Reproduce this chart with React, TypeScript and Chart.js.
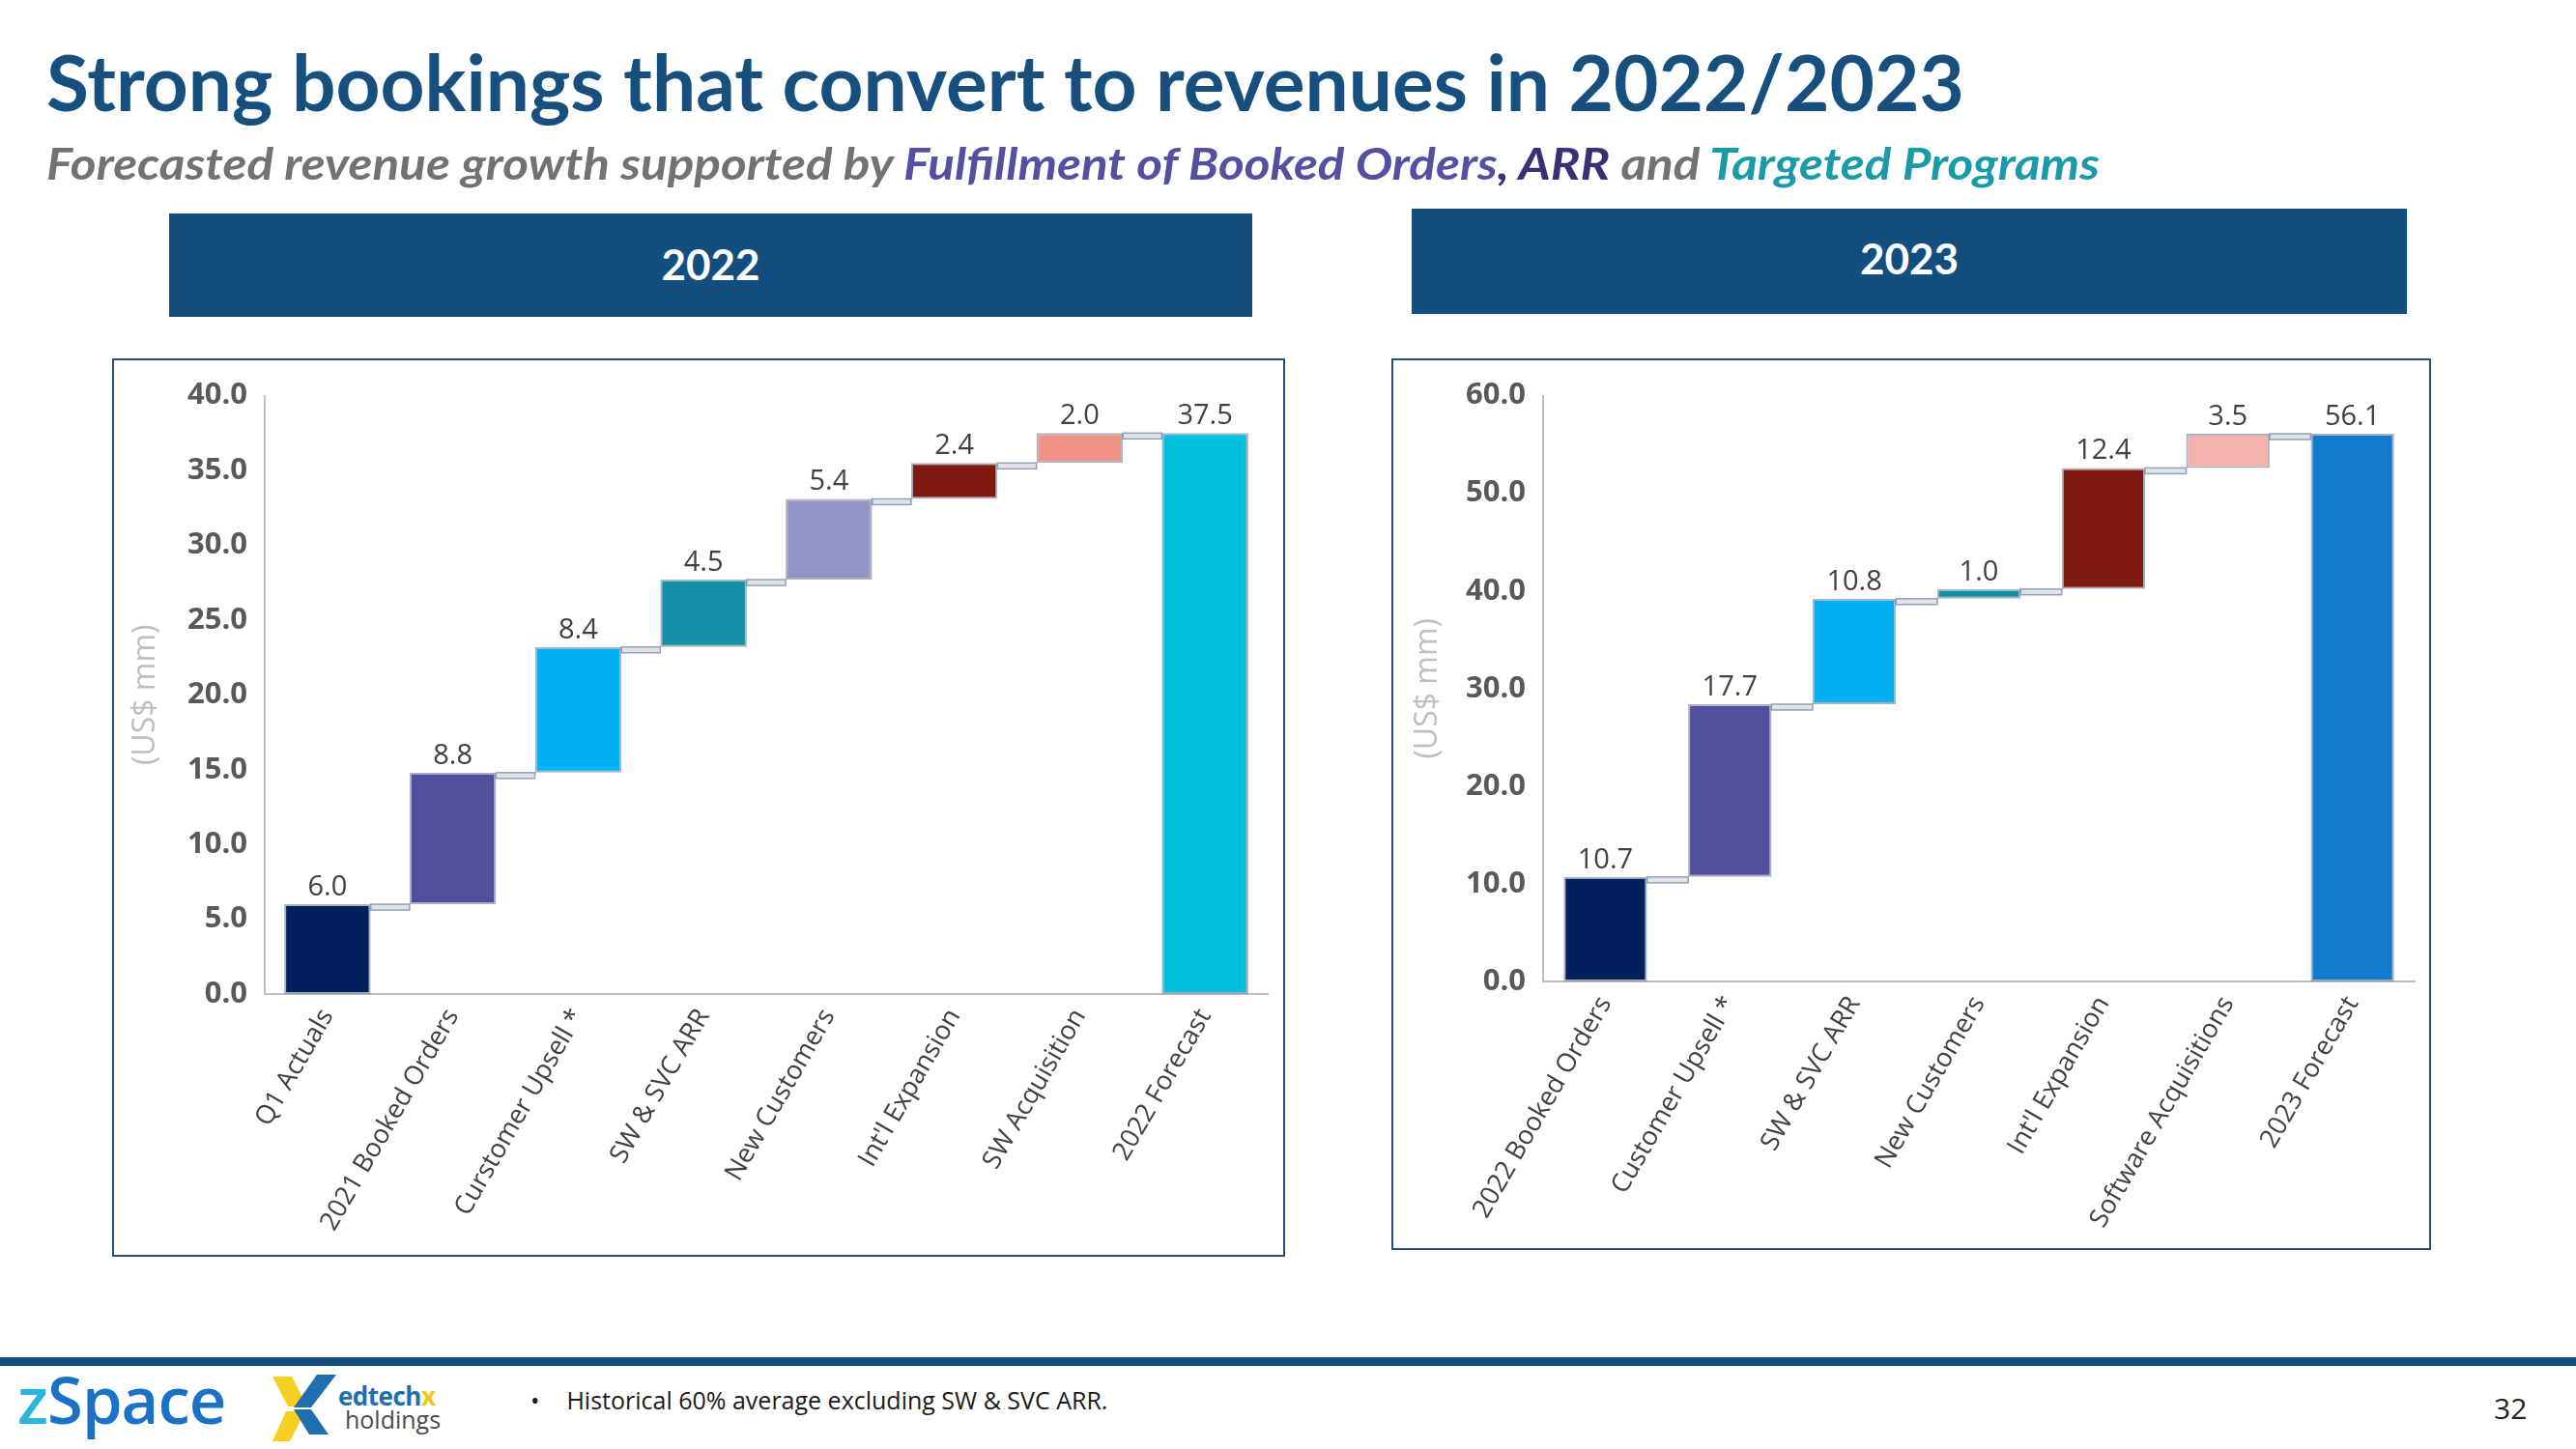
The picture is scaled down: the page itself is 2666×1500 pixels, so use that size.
import React, { useEffect, useLayoutEffect, useRef } from "react";
import { Chart, registerables } from "chart.js";

Chart.register(...registerables);

// ---------- DATA ----------
const categories2022 = [
  "Q1 Actuals",
  "2021 Booked Orders",
  "Curstomer Upsell *",
  "SW & SVC ARR",
  "New Customers",
  "Int'l Expansion",
  "SW Acquisition",
  "2022 Forecast",
];
const steps2022 = [6.0, 8.8, 8.4, 4.5, 5.4, 2.4, 2.0];
const total2022 = 37.5;
const colors2022 = ["#02205c", "#524f9f", "#00b0f0", "#128ea5", "#9594c7", "#7e1a12", "#f09387", "#00c1dd"];
const yMax2022 = 40;
const yStep2022 = 5;

const categories2023 = [
  "2022 Booked Orders",
  "Customer Upsell *",
  "SW & SVC ARR",
  "New Customers",
  "Int'l Expansion",
  "Software Acquisitions",
  "2023 Forecast",
];
const steps2023 = [10.7, 17.7, 10.8, 1.0, 12.4, 3.5];
const total2023 = 56.1;
const colors2023 = ["#02205c", "#524f9f", "#00b0f0", "#128ea5", "#7e1a12", "#f4b2ad", "#127acf"];
const yMax2023 = 60;
const yStep2023 = 10;

// ---------- HELPERS ----------
function buildFloating(steps: number[], total: number): number[][] {
  let cum = 0;
  const out = steps.map((v) => {
    const start = cum;
    cum = Math.round((cum + v) * 100) / 100;
    return [start, cum];
  });
  out.push([0, total]);
  return out;
}

const waterfallPlugin = {
  id: "waterfall",
  beforeDatasetsDraw(chart: any) {
    const meta = chart.getDatasetMeta(0);
    const data = chart.data.datasets[0].data as number[][];
    const ys = chart.scales.y;
    const ctx = chart.ctx;
    ctx.save();
    for (let i = 0; i < meta.data.length - 1; i++) {
      const a = meta.data[i];
      const b = meta.data[i + 1];
      const y = ys.getPixelForValue(data[i][1]);
      const x1 = a.x + a.width / 2;
      const x2 = b.x - b.width / 2;
      ctx.fillStyle = "#dfe3ea";
      ctx.strokeStyle = "#94a0b4";
      ctx.lineWidth = 1.5;
      ctx.fillRect(x1, y, x2 - x1, 6);
      ctx.strokeRect(x1, y, x2 - x1, 6);
    }
    ctx.restore();
  },
  afterDatasetsDraw(chart: any, _args: any, opts: any) {
    const meta = chart.getDatasetMeta(0);
    const values: number[] = opts.values || [];
    const ctx = chart.ctx;
    ctx.save();
    ctx.fillStyle = "#404040";
    ctx.font = "29px 'Open Sans'";
    ctx.textAlign = "center";
    ctx.textBaseline = "alphabetic";
    meta.data.forEach((el: any, i: number) => {
      const top = Math.min(el.y, el.base);
      ctx.fillText(values[i].toFixed(1), el.x, top - 9);
    });
    ctx.restore();
  },
};

type WFProps = {
  categories: string[];
  steps: number[];
  total: number;
  colors: string[];
  yMax: number;
  yStep: number;
  width: number;
  height: number;
  padLeft: number;
  padRight: number;
  padTop: number;
  yWidth: number;
  xHeight: number;
  barPct: number;
};

function Waterfall(p: WFProps) {
  const ref = useRef<HTMLCanvasElement | null>(null);
  useEffect(() => {
    if (!ref.current) return;
    const values = [...p.steps, p.total];
    const chart = new Chart(ref.current, {
      type: "bar",
      data: {
        labels: p.categories,
        datasets: [
          {
            data: buildFloating(p.steps, p.total) as any,
            backgroundColor: p.colors,
            borderColor: "rgba(112,126,150,0.6)",
            borderWidth: 2,
            borderSkipped: false,
            barPercentage: p.barPct,
            categoryPercentage: 1,
          },
        ],
      },
      options: {
        animation: false,
        responsive: false,
        devicePixelRatio: 1,
        layout: { padding: { left: p.padLeft, right: p.padRight, top: p.padTop, bottom: 0 } },
        plugins: {
          legend: { display: false },
          tooltip: { enabled: false },
          waterfall: { values },
        } as any,
        scales: {
          x: {
            grid: { display: false, drawTicks: false },
            border: { display: true, color: "#bfbfbf", width: 2 },
            ticks: {
              color: "#404040",
              font: { family: "'Open Sans'", size: 27 },
              minRotation: 60,
              maxRotation: 60,
              autoSkip: false,
              padding: 10,
            },
            afterFit: (s: any) => {
              s.height = p.xHeight;
            },
          },
          y: {
            min: 0,
            max: p.yMax,
            grid: { display: false, drawTicks: false },
            border: { display: true, color: "#bfbfbf", width: 2 },
            ticks: {
              stepSize: p.yStep,
              color: "#595959",
              font: { family: "'Open Sans'", size: 31, weight: "bold" },
              padding: 18,
              callback: (v: any) => Number(v).toFixed(1),
            },
            title: {
              display: true,
              text: "(US$ mm)",
              color: "#bfbfbf",
              font: { family: "'Open Sans'", size: 32 },
              padding: { top: 4, bottom: 4 },
            },
            afterFit: (s: any) => {
              s.width = p.yWidth;
            },
          },
        },
      },
      plugins: [waterfallPlugin],
    });
    return () => chart.destroy();
  }, []);
  return <canvas ref={ref} width={p.width} height={p.height} style={{ display: "block" }} />;
}

function FitText(props: { width: number; style: React.CSSProperties; children: React.ReactNode }) {
  const ref = useRef<HTMLDivElement | null>(null);
  useLayoutEffect(() => {
    const el = ref.current;
    if (!el) return;
    el.style.transform = "none";
    const w = el.getBoundingClientRect().width;
    if (w > 0) el.style.transform = `scaleX(${props.width / w})`;
  });
  return (
    <div ref={ref} style={{ position: "absolute", whiteSpace: "nowrap", transformOrigin: "left top", ...props.style }}>
      {props.children}
    </div>
  );
}

// ---------- PAGE ----------
const abs = (s: React.CSSProperties): React.CSSProperties => ({ position: "absolute", ...s });

export default function App() {
  return (
    <div style={abs({ left: 0, top: 0, width: 2666, height: 1500, background: "#ffffff", overflow: "hidden" })}>
      <FitText
        width={1985}
        style={{
          left: 48,
          top: 44,
          fontFamily: "Lato",
          fontWeight: 700,
          fontSize: 80,
          lineHeight: "80px",
          color: "#17507f",
        }}
      >
        Strong bookings that convert to revenues in 2022/2023
      </FitText>
      <FitText
        width={2125}
        style={{
          left: 48,
          top: 146,
          fontFamily: "Lato",
          fontWeight: 700,
          fontStyle: "italic",
          fontSize: 46,
          lineHeight: "46px",
          color: "#767171",
        }}
      >
        Forecasted revenue growth supported by{" "}
        <span style={{ color: "#5350a2" }}>Fulfillment of Booked Orders</span>
        <span style={{ color: "#3e2f74" }}>, ARR</span> and{" "}
        <span style={{ color: "#1a9aa8" }}>Targeted Programs</span>
      </FitText>

      <div
        style={abs({
          left: 175,
          top: 221,
          width: 1121,
          height: 107,
          background: "#134f7e",
          color: "#fff",
          fontFamily: "Lato",
          fontWeight: 700,
          fontSize: 44,
          display: "flex",
          alignItems: "center",
          justifyContent: "center",
        })}
      >
        <span style={{ marginTop: -4 }}>2022</span>
      </div>
      <div
        style={abs({
          left: 1461,
          top: 216,
          width: 1030,
          height: 109,
          background: "#134f7e",
          color: "#fff",
          fontFamily: "Lato",
          fontWeight: 700,
          fontSize: 44,
          display: "flex",
          alignItems: "center",
          justifyContent: "center",
        })}
      >
        <span style={{ marginTop: -8 }}>2023</span>
      </div>

      <div style={abs({ left: 116, top: 371, width: 1214, height: 930, border: "2px solid #2a4f78", boxSizing: "border-box" })}>
        <Waterfall
          categories={categories2022}
          steps={steps2022}
          total={total2022}
          colors={colors2022}
          yMax={yMax2022}
          yStep={yStep2022}
          width={1210}
          height={926}
          padLeft={10}
          padRight={16}
          padTop={34}
          yWidth={146}
          xHeight={270}
          barPct={0.69}
        />
      </div>

      <div style={abs({ left: 1440, top: 371, width: 1076, height: 923, border: "2px solid #2a4f78", boxSizing: "border-box" })}>
        <Waterfall
          categories={categories2023}
          steps={steps2023}
          total={total2023}
          colors={colors2023}
          yMax={yMax2023}
          yStep={yStep2023}
          width={1072}
          height={919}
          padLeft={13}
          padRight={15}
          padTop={35}
          yWidth={142}
          xHeight={276}
          barPct={0.67}
        />
      </div>

      <div style={abs({ left: 0, top: 1405, width: 2666, height: 9, background: "#134f7e" })} />

      <div
        style={abs({
          left: 18,
          top: 1415,
          fontFamily: "'Open Sans'",
          fontWeight: 600,
          fontSize: 67,
          lineHeight: "67px",
          whiteSpace: "nowrap",
          letterSpacing: -1,
        })}
      >
        <span style={{ color: "#2bb5df" }}>z</span>
        <span style={{ color: "#1a72c8" }}>Space</span>
      </div>

      <svg style={abs({ left: 282, top: 1423 })} width={70} height={70} viewBox="0 0 70 70">
        <polygon points="0,2 20,2 36,33 16,33" fill="#f5d020" />
        <polygon points="14,38 34,38 18,69 0,69" fill="#f5d020" />
        <polygon points="46,0 66,0 40,34 22,34" fill="#1f6eb0" />
        <polygon points="22,36 40,36 58,62 38,62" fill="#1f6eb0" />
      </svg>
      <div
        style={abs({
          left: 350,
          top: 1432,
          fontFamily: "'Open Sans'",
          fontWeight: 700,
          fontSize: 26,
          lineHeight: "26px",
          color: "#1f6eb0",
          letterSpacing: -0.5,
        })}
      >
        edtech<span style={{ color: "#f5c518" }}>x</span>
      </div>
      <div
        style={abs({
          left: 357,
          top: 1457,
          fontFamily: "'Open Sans'",
          fontWeight: 400,
          fontSize: 25,
          lineHeight: "25px",
          color: "#4a4a4a",
        })}
      >
        holdings
      </div>

      <div
        style={abs({
          left: 549,
          top: 1434,
          fontFamily: "'Open Sans'",
          fontSize: 25,
          lineHeight: "30px",
          color: "#1a1a1a",
          whiteSpace: "nowrap",
        })}
      >
        •<span style={{ marginLeft: 28 }}>Historical 60% average excluding SW &amp; SVC ARR.</span>
      </div>
      <div
        style={abs({
          left: 2581,
          top: 1440,
          fontFamily: "'Open Sans'",
          fontSize: 30,
          lineHeight: "36px",
          color: "#222",
        })}
      >
        32
      </div>
    </div>
  );
}
